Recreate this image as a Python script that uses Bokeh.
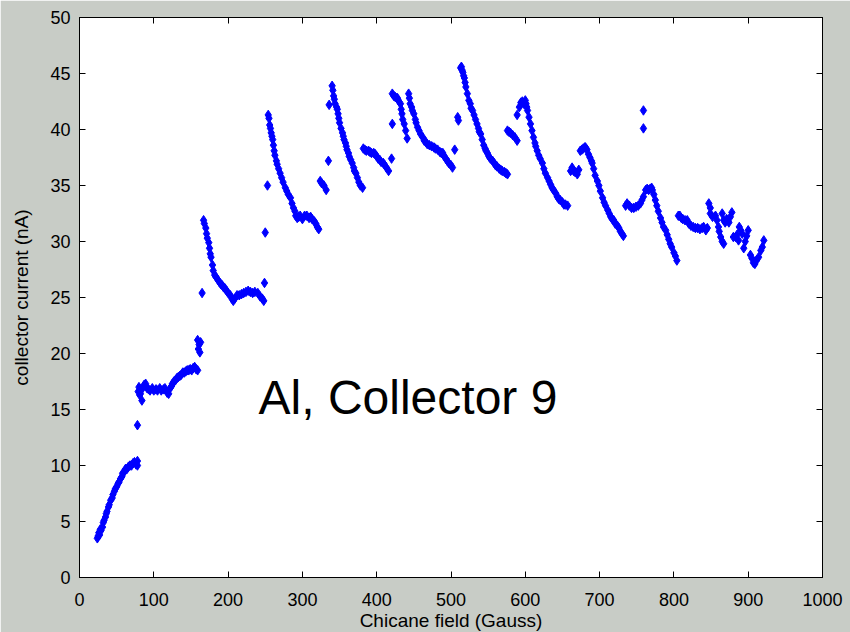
from bokeh.plotting import figure
from bokeh.models import LinearAxis, Range1d, FixedTicker, Label
from bokeh.embed import file_html
from bokeh.resources import INLINE

x_ticks = [0, 100, 200, 300, 400, 500, 600, 700, 800, 900, 1000]
y_ticks = [0, 5, 10, 15, 20, 25, 30, 35, 40, 45, 50]
x_label = "Chicane field (Gauss)"
y_label = "collector current (nA)"
annotation = "Al, Collector 9"

# segment data (field in Gauss, current in nA)
seg_a_x = [24, 25, 26, 27, 28, 29, 31, 32, 33, 35, 36, 37, 39, 40, 42, 44, 45, 47, 48, 50, 52, 53, 55, 57, 58, 60, 62, 64, 66, 68, 70, 72, 74, 76, 78, 78, 78]
seg_a_y = [3.5, 3.7, 4.0, 3.8, 4.3, 4.2, 4.5, 4.9, 5.1, 5.4, 5.7, 5.9, 6.3, 6.5, 6.9, 7.1, 7.4, 7.7, 7.9, 8.1, 8.4, 8.5, 8.8, 9.0, 9.3, 9.4, 9.7, 9.7, 9.9, 10.0, 10.0, 10.2, 10.3, 10.1, 10.4, 10.0, 13.6]

seg_b_x = [79, 80, 81, 82, 84, 85, 87, 89, 91, 93, 95, 98, 100, 103, 105, 108, 110, 113, 115, 118, 120, 122, 124, 125, 127, 129, 131, 133, 135, 137, 139, 141, 143, 145, 147, 149, 151, 153, 155, 157, 159,
           159, 160, 161, 163, 162, 165]
seg_b_y = [16.6, 17.0, 16.3, 16.4, 15.8, 16.9, 17.2, 17.3, 16.9, 16.8, 16.7, 16.9, 16.7, 16.8, 16.7, 16.9, 16.7, 16.8, 16.9, 16.5, 16.4, 16.9, 17.1, 17.3, 17.5, 17.6, 17.8, 17.9, 18.0, 18.1, 18.3, 18.3, 18.4, 18.5, 18.5, 18.6, 18.5, 18.7, 18.8, 18.6, 18.5,
           21.2, 20.4, 20.8, 21.0, 20.1, 25.4]

seg_d_x = [167, 168, 170, 171, 172, 174, 175, 176, 177, 179, 180, 182, 184, 186, 188, 190, 192, 194, 196, 198, 200, 203, 205, 207, 209, 212, 215, 218, 221, 224, 227, 230, 233, 236, 240, 243, 246, 248,
           249, 250, 253]
seg_d_y = [31.9, 31.6, 31.2, 30.7, 30.3, 29.9, 29.4, 28.9, 28.6, 27.9, 27.4, 27.0, 26.8, 26.6, 26.4, 26.2, 26.1, 25.9, 25.8, 25.6, 25.4, 25.2, 24.9, 24.7, 24.9, 25.2, 25.2, 25.3, 25.4, 25.5, 25.6, 25.5, 25.4, 25.5, 25.4, 25.1, 24.9, 24.7,
           26.3, 30.8, 35.0]

seg_e_x = [254, 255, 256, 257, 258, 259, 260, 261, 262, 263, 265, 266, 268, 270, 272, 274, 277, 279, 281, 284, 286, 288, 290, 291, 293, 295, 297, 300, 303, 306, 309, 311, 313, 316, 318, 320, 322,
           324, 326, 329, 332, 335, 336]
seg_e_y = [41.3, 41.0, 40.4, 40.1, 39.7, 39.4, 39.1, 38.6, 38.1, 37.7, 37.2, 36.9, 36.5, 36.1, 35.7, 35.3, 34.8, 34.5, 34.2, 33.9, 33.4, 33.0, 32.7, 32.3, 32.1, 32.2, 32.3, 32.0, 32.3, 32.3, 32.1, 32.2, 32.0, 31.8, 31.6, 31.3, 31.1,
           35.4, 35.2, 35.0, 34.6, 37.2, 42.2]

seg_f_x = [340, 341, 342, 343, 344, 346, 347, 348, 349, 350, 352, 354, 355, 356, 358, 359, 360, 362, 363, 365, 367, 369, 370, 372, 374, 376, 378, 381]
seg_f_y = [43.9, 43.5, 43.0, 42.7, 42.3, 42.0, 41.8, 41.4, 41.0, 40.6, 40.1, 39.7, 39.4, 39.1, 38.8, 38.5, 38.2, 37.9, 37.6, 37.3, 37.0, 36.6, 36.3, 36.1, 35.7, 35.3, 35.0, 34.8]

seg_g_x = [382, 384, 386, 389, 391, 393, 396, 398, 400, 402, 404, 406, 409, 411, 413, 416, 420, 421]
seg_g_y = [38.3, 38.2, 38.1, 38.1, 38.0, 37.9, 37.9, 37.8, 37.6, 37.4, 37.3, 37.1, 37.0, 36.8, 36.6, 36.3, 37.4, 40.5]

seg_h_x = [421, 423, 425, 427, 428, 430, 432, 433, 434, 435, 437, 439, 441]
seg_h_y = [43.2, 43.0, 42.9, 42.8, 42.8, 42.5, 42.3, 41.8, 41.4, 40.9, 40.5, 39.9, 39.2]

seg_i_x = [443, 444, 445, 447, 448, 450, 452, 453, 455, 457, 459, 462, 464, 466, 468, 471, 474, 477, 479, 482, 485, 487, 489, 491, 493, 495, 497, 500, 502,
           505, 509, 510]
seg_i_y = [43.2, 42.8, 42.3, 42.0, 41.7, 41.4, 40.9, 40.6, 40.2, 39.9, 39.6, 39.3, 39.0, 38.9, 38.7, 38.6, 38.5, 38.4, 38.3, 38.2, 38.0, 37.9, 37.9, 37.6, 37.4, 37.2, 37.0, 36.8, 36.6,
           38.2, 41.1, 40.8]

seg_j_x = [513, 514, 515, 516, 517, 518, 519, 520, 522, 524, 526, 527, 529, 531, 533, 535, 537, 538, 540, 542, 544, 546, 547, 549, 551, 553, 556, 558, 560, 562, 565, 567, 569, 572, 574, 576]
seg_j_y = [45.5, 45.6, 45.3, 45.1, 44.8, 44.6, 44.2, 43.8, 43.2, 42.6, 42.3, 41.9, 41.7, 41.3, 40.9, 40.5, 40.1, 39.8, 39.6, 39.1, 38.6, 38.3, 38.1, 37.9, 37.6, 37.4, 37.2, 37.0, 36.8, 36.7, 36.5, 36.4, 36.3, 36.2, 36.1, 36.0]

seg_k_x = [576, 578, 580, 583, 586, 589, 589]
seg_k_y = [39.9, 39.8, 39.7, 39.5, 39.3, 39.0, 41.3]

seg_l_x = [592, 594, 596, 598, 600, 601, 602, 603, 605, 607, 609, 611, 613, 614, 616, 618, 620, 623, 625, 627, 630, 632, 634, 636, 638, 641, 643, 645, 647, 650, 652, 654, 657,
           661, 663, 665, 667, 670, 672]
seg_l_y = [42.0, 42.4, 42.5, 42.3, 42.6, 42.3, 42.0, 41.7, 41.1, 40.5, 39.9, 39.3, 38.8, 38.5, 38.1, 37.7, 37.4, 37.0, 36.5, 36.1, 35.7, 35.4, 35.1, 34.8, 34.6, 34.3, 34.0, 33.8, 33.7, 33.5, 33.3, 33.3, 33.2,
           36.3, 36.6, 36.3, 36.2, 36.0, 36.4]

seg_n_x = [674, 676, 678, 680, 681, 683, 685, 687, 689, 690, 692, 694, 697, 699, 701, 704, 706, 708, 711, 713, 715, 717, 719, 721, 724, 726, 728, 730, 732]
seg_n_y = [38.1, 38.2, 38.3, 38.4, 38.4, 38.2, 37.8, 37.5, 37.2, 37.0, 36.5, 35.9, 35.4, 35.0, 34.5, 33.9, 33.5, 33.2, 32.8, 32.5, 32.2, 32.0, 31.9, 31.6, 31.4, 31.2, 30.9, 30.7, 30.5]

seg_o_x = [735, 737, 740, 743, 746, 749, 752, 755, 757, 759, 759, 759]
seg_o_y = [33.2, 33.4, 33.2, 33.0, 33.0, 33.1, 33.2, 33.4, 33.7, 34.0, 41.7, 40.1]

seg_p_x = [762, 764, 766, 768, 770, 771, 773, 775, 777, 779, 782, 784, 786, 789, 791, 793, 795, 797, 800, 802, 804]
seg_p_y = [34.6, 34.7, 34.6, 34.7, 34.8, 34.6, 34.2, 33.7, 33.2, 32.7, 32.1, 31.7, 31.3, 31.0, 30.6, 30.2, 29.8, 29.5, 29.0, 28.7, 28.3]

seg_q_x = [806, 808, 810, 812, 815, 818, 820, 823, 826, 829, 832, 835, 838, 840, 843, 845, 847, 849]
seg_q_y = [32.3, 32.3, 32.1, 32.0, 31.9, 31.9, 31.6, 31.4, 31.3, 31.2, 31.2, 31.1, 31.2, 31.3, 31.0, 31.2, 33.4, 33.0]

seg_r_x = [849, 852, 856, 858, 860, 861, 863, 865, 867, 865, 867, 869, 871, 874, 876, 878, 880, 883, 885, 887, 888, 890, 892, 894, 896, 898, 900, 903, 905, 907, 909, 911, 914, 917, 919, 921]
seg_r_y = [32.5, 32.2, 32.3, 31.9, 31.3, 30.9, 30.4, 30.0, 29.8, 32.5, 31.9, 31.7, 32.0, 31.7, 32.2, 32.6, 30.4, 30.4, 30.6, 30.1, 31.3, 31.0, 30.7, 29.4, 30.0, 30.5, 31.0, 28.8, 28.5, 28.1, 28.0, 28.3, 28.6, 29.2, 29.5, 30.1]

xs = (seg_a_x + seg_b_x + seg_d_x + seg_e_x + seg_f_x + seg_g_x + seg_h_x + seg_i_x + seg_j_x
      + seg_k_x + seg_l_x + seg_n_x + seg_o_x + seg_p_x + seg_q_x + seg_r_x)
ys = (seg_a_y + seg_b_y + seg_d_y + seg_e_y + seg_f_y + seg_g_y + seg_h_y + seg_i_y + seg_j_y
      + seg_k_y + seg_l_y + seg_n_y + seg_o_y + seg_p_y + seg_q_y + seg_r_y)

BG = "#c8ccc6"
FONT = "Liberation Sans"

p = figure(output_backend="svg", toolbar_location=None,
           x_range=Range1d(0, 1000), y_range=Range1d(0, 50),
           frame_width=743, frame_height=560,
           min_border_left=79, min_border_right=28, min_border_top=17, min_border_bottom=55,
           background_fill_color="white", border_fill_color=BG,
           outline_line_color="black", outline_line_width=1)

p.xgrid.visible = False
p.ygrid.visible = False

def style(ax, ticks, show_labels):
    ax.ticker = FixedTicker(ticks=ticks)
    ax.major_tick_in = 6
    ax.major_tick_out = 0
    ax.minor_tick_line_color = None
    ax.axis_line_color = "black"
    ax.major_tick_line_color = "black"
    ax.major_label_text_font = FONT
    ax.major_label_text_font_size = "18px"
    ax.major_label_text_color = "black"
    ax.axis_label_text_font = FONT
    ax.axis_label_text_font_size = "19px"
    ax.axis_label_text_font_style = "normal"
    ax.axis_label_text_color = "black"
    if not show_labels:
        ax.major_label_overrides = {t: "" for t in ticks}
        ax.major_label_standoff = 0

style(p.xaxis[0], x_ticks, True)
style(p.yaxis[0], y_ticks, True)
p.xaxis[0].axis_label = x_label
p.yaxis[0].axis_label = y_label
p.xaxis[0].major_label_standoff = 15
p.xaxis[0].axis_label_standoff = 1
p.yaxis[0].major_label_standoff = 9
p.yaxis[0].axis_label_standoff = 15

top = LinearAxis()
style(top, x_ticks, False)
p.add_layout(top, "above")
right = LinearAxis()
style(right, y_ticks, False)
p.add_layout(right, "right")

p.scatter(xs, ys, marker="diamond", size=9.5, fill_color="#0000ff", line_color="#0000ff")

p.add_layout(Label(x=241, y=16.1, text=annotation, text_font=FONT, text_font_size="48px",
                   text_color="black", text_baseline="middle", text_align="left"))

html = file_html(p, INLINE)
html = html.replace("<body>", '<body style="background:%s">' % BG, 1)
open("out.html", "w").write(html)
